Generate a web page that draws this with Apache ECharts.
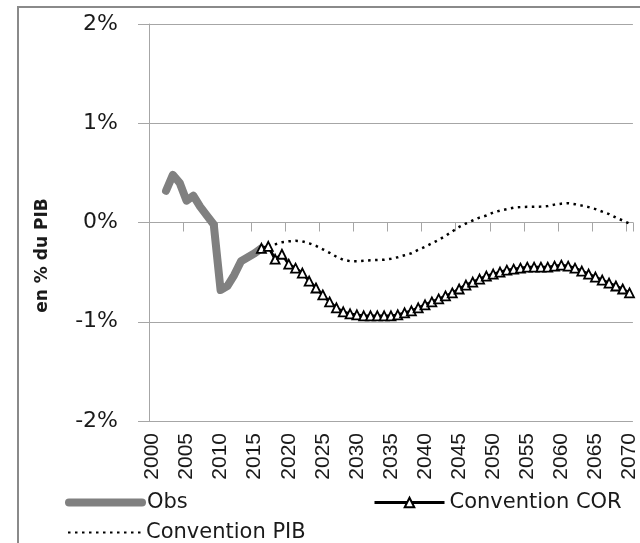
<!DOCTYPE html>
<html>
<head>
<meta charset="utf-8">
<script src="https://cdn.jsdelivr.net/npm/echarts@6.0.0/dist/echarts.min.js"></script>
<style>
  html, body { margin: 0; padding: 0; background: #fff; }
  #chart { width: 640px; height: 543px; }
</style>
</head>
<body>
<div id="chart"></div>
<script>
const years = [
  '2000','2001','2002','2003','2004','2005','2006','2007','2008','2009',
  '2010','2011','2012','2013','2014','2015','2016','2017','2018','2019',
  '2020','2021','2022','2023','2024','2025','2026','2027','2028','2029',
  '2030','2031','2032','2033','2034','2035','2036','2037','2038','2039',
  '2040','2041','2042','2043','2044','2045','2046','2047','2048','2049',
  '2050','2051','2052','2053','2054','2055','2056','2057','2058','2059',
  '2060','2061','2062','2063','2064','2065','2066','2067','2068','2069',
  '2070'
];

// observed, 2002 -> 2016
const obsFrom = '2002';
const obs = [0.32, 0.48, 0.40, 0.22, 0.27, 0.16, 0.07, -0.02, -0.68, -0.64,
  -0.53, -0.39, -0.35, -0.31, -0.26];

// projections, 2016 -> 2070
const projFrom = '2016';
const conventionCOR = [
  -0.26, -0.24, -0.37, -0.32, -0.42, -0.46, -0.51, -0.59, -0.66, -0.73,
  -0.80, -0.86, -0.90, -0.92, -0.93, -0.94, -0.94, -0.94, -0.94, -0.94,
  -0.93, -0.91, -0.89, -0.86, -0.83, -0.80, -0.77, -0.74, -0.71, -0.67,
  -0.63, -0.60, -0.57, -0.54, -0.52, -0.50, -0.48, -0.47, -0.46, -0.45,
  -0.45, -0.45, -0.45, -0.44, -0.43, -0.44, -0.46, -0.49, -0.52, -0.55,
  -0.58, -0.61, -0.64, -0.67, -0.71
];
const conventionPIB = [
  -0.26, -0.23, -0.22, -0.20, -0.19, -0.185, -0.19, -0.21, -0.235, -0.27,
  -0.305, -0.345, -0.375, -0.39, -0.39, -0.385, -0.38, -0.377, -0.375, -0.365,
  -0.35, -0.33, -0.31, -0.275, -0.245, -0.21, -0.175, -0.135, -0.09, -0.045,
  -0.01, 0.02, 0.05, 0.07, 0.10, 0.12, 0.135, 0.15, 0.155, 0.158,
  0.158, 0.16, 0.165, 0.18, 0.19, 0.195, 0.185, 0.17, 0.155, 0.135,
  0.11, 0.085, 0.05, 0.02, -0.01
];

const yTicks = [-2, -1, 0, 1, 2];

const place = (from, values) => {
  const start = years.indexOf(from);
  return years.map((y, i) => (i >= start && i < start + values.length) ? values[i - start] : null);
};

const textColor = '#1a1a1a';
const gridColor = '#a6a6a6';
const legendText = { fontFamily: 'DejaVu Sans', fontSize: 21, color: textColor };

const chart = echarts.init(document.getElementById('chart'));

chart.setOption({
  animation: false,
  graphic: [{
    type: 'rect',
    shape: { x: 18, y: 7, width: 700, height: 600 },
    style: { fill: 'none', stroke: '#8a8a8a', lineWidth: 2 },
    silent: true
  }],
  grid: { left: 149, right: 6, top: 24, bottom: 122 },
  legend: [
    {
      data: ['Obs'], left: 65, top: 492, padding: 0, itemWidth: 73, itemHeight: 12,
      itemStyle: { opacity: 0 },
      lineStyle: { width: 8, cap: 'round' },
      textStyle: legendText
    },
    {
      data: ['Convention COR'], left: 373, top: 492, padding: 0, itemWidth: 70, itemHeight: 12,
      lineStyle: { width: 3 },
      textStyle: legendText
    },
    {
      data: ['Convention PIB'], left: 67, top: 522, padding: 0, itemWidth: 73, itemHeight: 12,
      itemStyle: { opacity: 0 },
      textStyle: legendText
    }
  ],
  xAxis: [
    {
      type: 'category',
      data: years,
      position: 'bottom',
      axisLine: { show: false, onZero: false },
      axisTick: { show: false },
      splitLine: { show: false },
      axisLabel: {
        interval: 4, rotate: 90, margin: 12,
        fontFamily: 'Liberation Sans', fontSize: 21, color: textColor
      }
    },
    {
      type: 'category',
      data: years,
      position: 'bottom',
      axisLine: { show: true, onZero: true, lineStyle: { color: gridColor, width: 1 } },
      axisTick: { show: true, interval: 4, length: 9, lineStyle: { color: gridColor } },
      axisLabel: { show: false },
      splitLine: { show: false }
    }
  ],
  yAxis: {
    type: 'value',
    min: yTicks[0],
    max: yTicks[yTicks.length - 1],
    interval: 1,
    name: 'en % du PIB',
    nameLocation: 'middle',
    nameGap: 98,
    nameTextStyle: {
      fontFamily: 'DejaVu Sans', fontSize: 17, fontWeight: 'bold', color: textColor,
      padding: [0, 66, 0, 0]
    },
    axisLine: { show: true, lineStyle: { color: gridColor } },
    axisTick: { show: true, length: 11, lineStyle: { color: gridColor } },
    splitLine: { lineStyle: { color: gridColor, width: 1 } },
    axisLabel: {
      margin: 31, fontFamily: 'DejaVu Sans', fontSize: 22, color: textColor,
      formatter: v => v + '%'
    }
  },
  series: [
    {
      name: 'Obs',
      type: 'line',
      xAxisIndex: 0,
      data: place(obsFrom, obs),
      symbol: 'none',
      color: '#808080',
      lineStyle: { color: '#808080', width: 8, cap: 'round', join: 'round' }
    },
    {
      name: 'Convention COR',
      type: 'line',
      xAxisIndex: 0,
      data: place(projFrom, conventionCOR),
      symbol: 'triangle',
      symbolSize: 9,
      showAllSymbol: true,
      color: '#000',
      itemStyle: { color: '#fff', borderColor: '#000', borderWidth: 1.8 },
      lineStyle: { color: '#000', width: 2.8 }
    },
    {
      name: 'Convention PIB',
      type: 'line',
      xAxisIndex: 0,
      data: place(projFrom, conventionPIB),
      symbol: 'none',
      color: '#000',
      lineStyle: { color: '#000', width: 2.5, type: [2.5, 4.5] }
    }
  ]
});
</script>
</body>
</html>
